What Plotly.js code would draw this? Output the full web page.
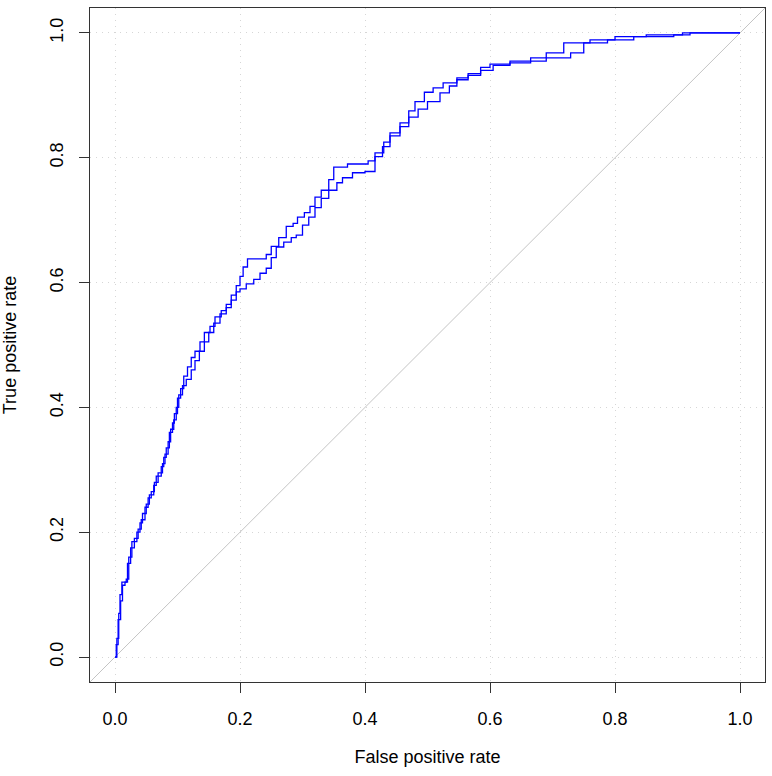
<!DOCTYPE html>
<html>
<head>
<meta charset="utf-8">
<script src="https://cdn.plot.ly/plotly-3.0.1.min.js"></script>
<style>html,body{margin:0;padding:0;background:#fff;}#chart{width:772px;height:776px;}</style>
</head>
<body>
<div id="chart"></div>
<script>
// Curve A (upper in mid-range)
const fprA = [0,0.003,0.006,0.008,0.011,0.018,0.022,0.027,0.035,0.040,0.044,0.050,0.055,0.062,0.066,0.074,0.078,0.082,0.087,0.092,0.095,0.100,0.105,0.110,0.116,0.122,0.128,0.136,0.143,0.152,0.160,0.170,0.178,0.186,0.194,0.200,0.205,0.212,0.242,0.250,0.262,0.274,0.285,0.292,0.303,0.312,0.320,0.330,0.342,0.350,0.372,0.405,0.416,0.430,0.440,0.456,0.470,0.480,0.495,0.509,0.525,0.547,0.565,0.585,0.600,0.632,0.665,0.690,0.718,0.760,0.800,0.850,0.908,1.0];
const tprA = [0,0.030,0.070,0.100,0.120,0.125,0.160,0.185,0.200,0.215,0.230,0.245,0.260,0.275,0.290,0.305,0.320,0.335,0.360,0.375,0.390,0.415,0.430,0.450,0.465,0.480,0.490,0.505,0.520,0.530,0.545,0.555,0.565,0.580,0.595,0.610,0.625,0.638,0.645,0.658,0.672,0.690,0.695,0.705,0.712,0.722,0.737,0.748,0.765,0.785,0.790,0.795,0.808,0.825,0.840,0.856,0.875,0.890,0.905,0.912,0.920,0.928,0.935,0.945,0.950,0.955,0.960,0.968,0.984,0.989,0.994,0.997,1.0,1.0];
// Curve B (lower in mid-range)
const fprB = [0,0.002,0.005,0.009,0.012,0.016,0.020,0.025,0.031,0.037,0.042,0.048,0.053,0.058,0.063,0.069,0.076,0.080,0.085,0.089,0.094,0.098,0.102,0.108,0.114,0.122,0.128,0.135,0.143,0.150,0.158,0.168,0.178,0.186,0.194,0.200,0.210,0.222,0.232,0.242,0.250,0.258,0.270,0.282,0.290,0.300,0.310,0.320,0.330,0.342,0.355,0.364,0.380,0.400,0.416,0.428,0.440,0.456,0.470,0.485,0.500,0.520,0.535,0.547,0.565,0.585,0.605,0.632,0.665,0.690,0.729,0.750,0.788,0.830,0.894,0.920,1.0];
const tprB = [0,0.020,0.060,0.090,0.115,0.120,0.150,0.175,0.190,0.205,0.220,0.240,0.255,0.265,0.280,0.295,0.310,0.325,0.345,0.365,0.380,0.400,0.420,0.435,0.445,0.460,0.475,0.490,0.505,0.520,0.535,0.550,0.560,0.572,0.585,0.590,0.598,0.605,0.615,0.623,0.640,0.657,0.665,0.672,0.676,0.692,0.705,0.720,0.735,0.748,0.760,0.768,0.776,0.778,0.802,0.818,0.835,0.850,0.865,0.878,0.890,0.904,0.915,0.925,0.932,0.940,0.948,0.952,0.955,0.960,0.968,0.984,0.989,0.994,0.997,1.0,1.0];
// Chance diagonal
const diagX = [-0.1, 1.1];
const diagY = [-0.1, 1.1];
const tickVals = [0, 0.2, 0.4, 0.6, 0.8, 1.0];
const tickText = ["0.0", "0.2", "0.4", "0.6", "0.8", "1.0"];

const font = {family: "Liberation Sans, Arial, sans-serif", size: 18, color: "#000"};
const traces = [
  {x: diagX, y: diagY, mode: "lines", line: {color: "#c4c4c4", width: 1}, hoverinfo: "skip"},
  {x: fprA, y: tprA, mode: "lines", line: {color: "#0000ff", width: 1.3, shape: "hv"}},
  {x: fprB, y: tprB, mode: "lines", line: {color: "#0000ff", width: 1.3, shape: "hv"}}
];
const axisBase = {
  range: [-0.04, 1.04], tickvals: tickVals, ticktext: tickText,
  showgrid: true, gridcolor: "#d6d6d6", griddash: "1px,5px", gridwidth: 1,
  zeroline: false, showline: true, linecolor: "#333", linewidth: 1, mirror: true,
  ticks: "outside", ticklen: 10, tickcolor: "#333", tickfont: font
};
const layout = {
  width: 772, height: 776, showlegend: false,
  paper_bgcolor: "#fff", plot_bgcolor: "#fff",
  margin: {l: 90, r: 7, t: 8, b: 94},
  xaxis: Object.assign({}, axisBase, {ticklabelstandoff: 10, title: {text: "False positive rate", font: font, standoff: 22}}),
  yaxis: Object.assign({}, axisBase, {tickangle: -90, ticklabelstandoff: 9, title: {text: "True positive rate", font: font, standoff: 26}})
};
Plotly.newPlot("chart", traces, layout, {displayModeBar: false, staticPlot: true});
</script>
</body>
</html>
